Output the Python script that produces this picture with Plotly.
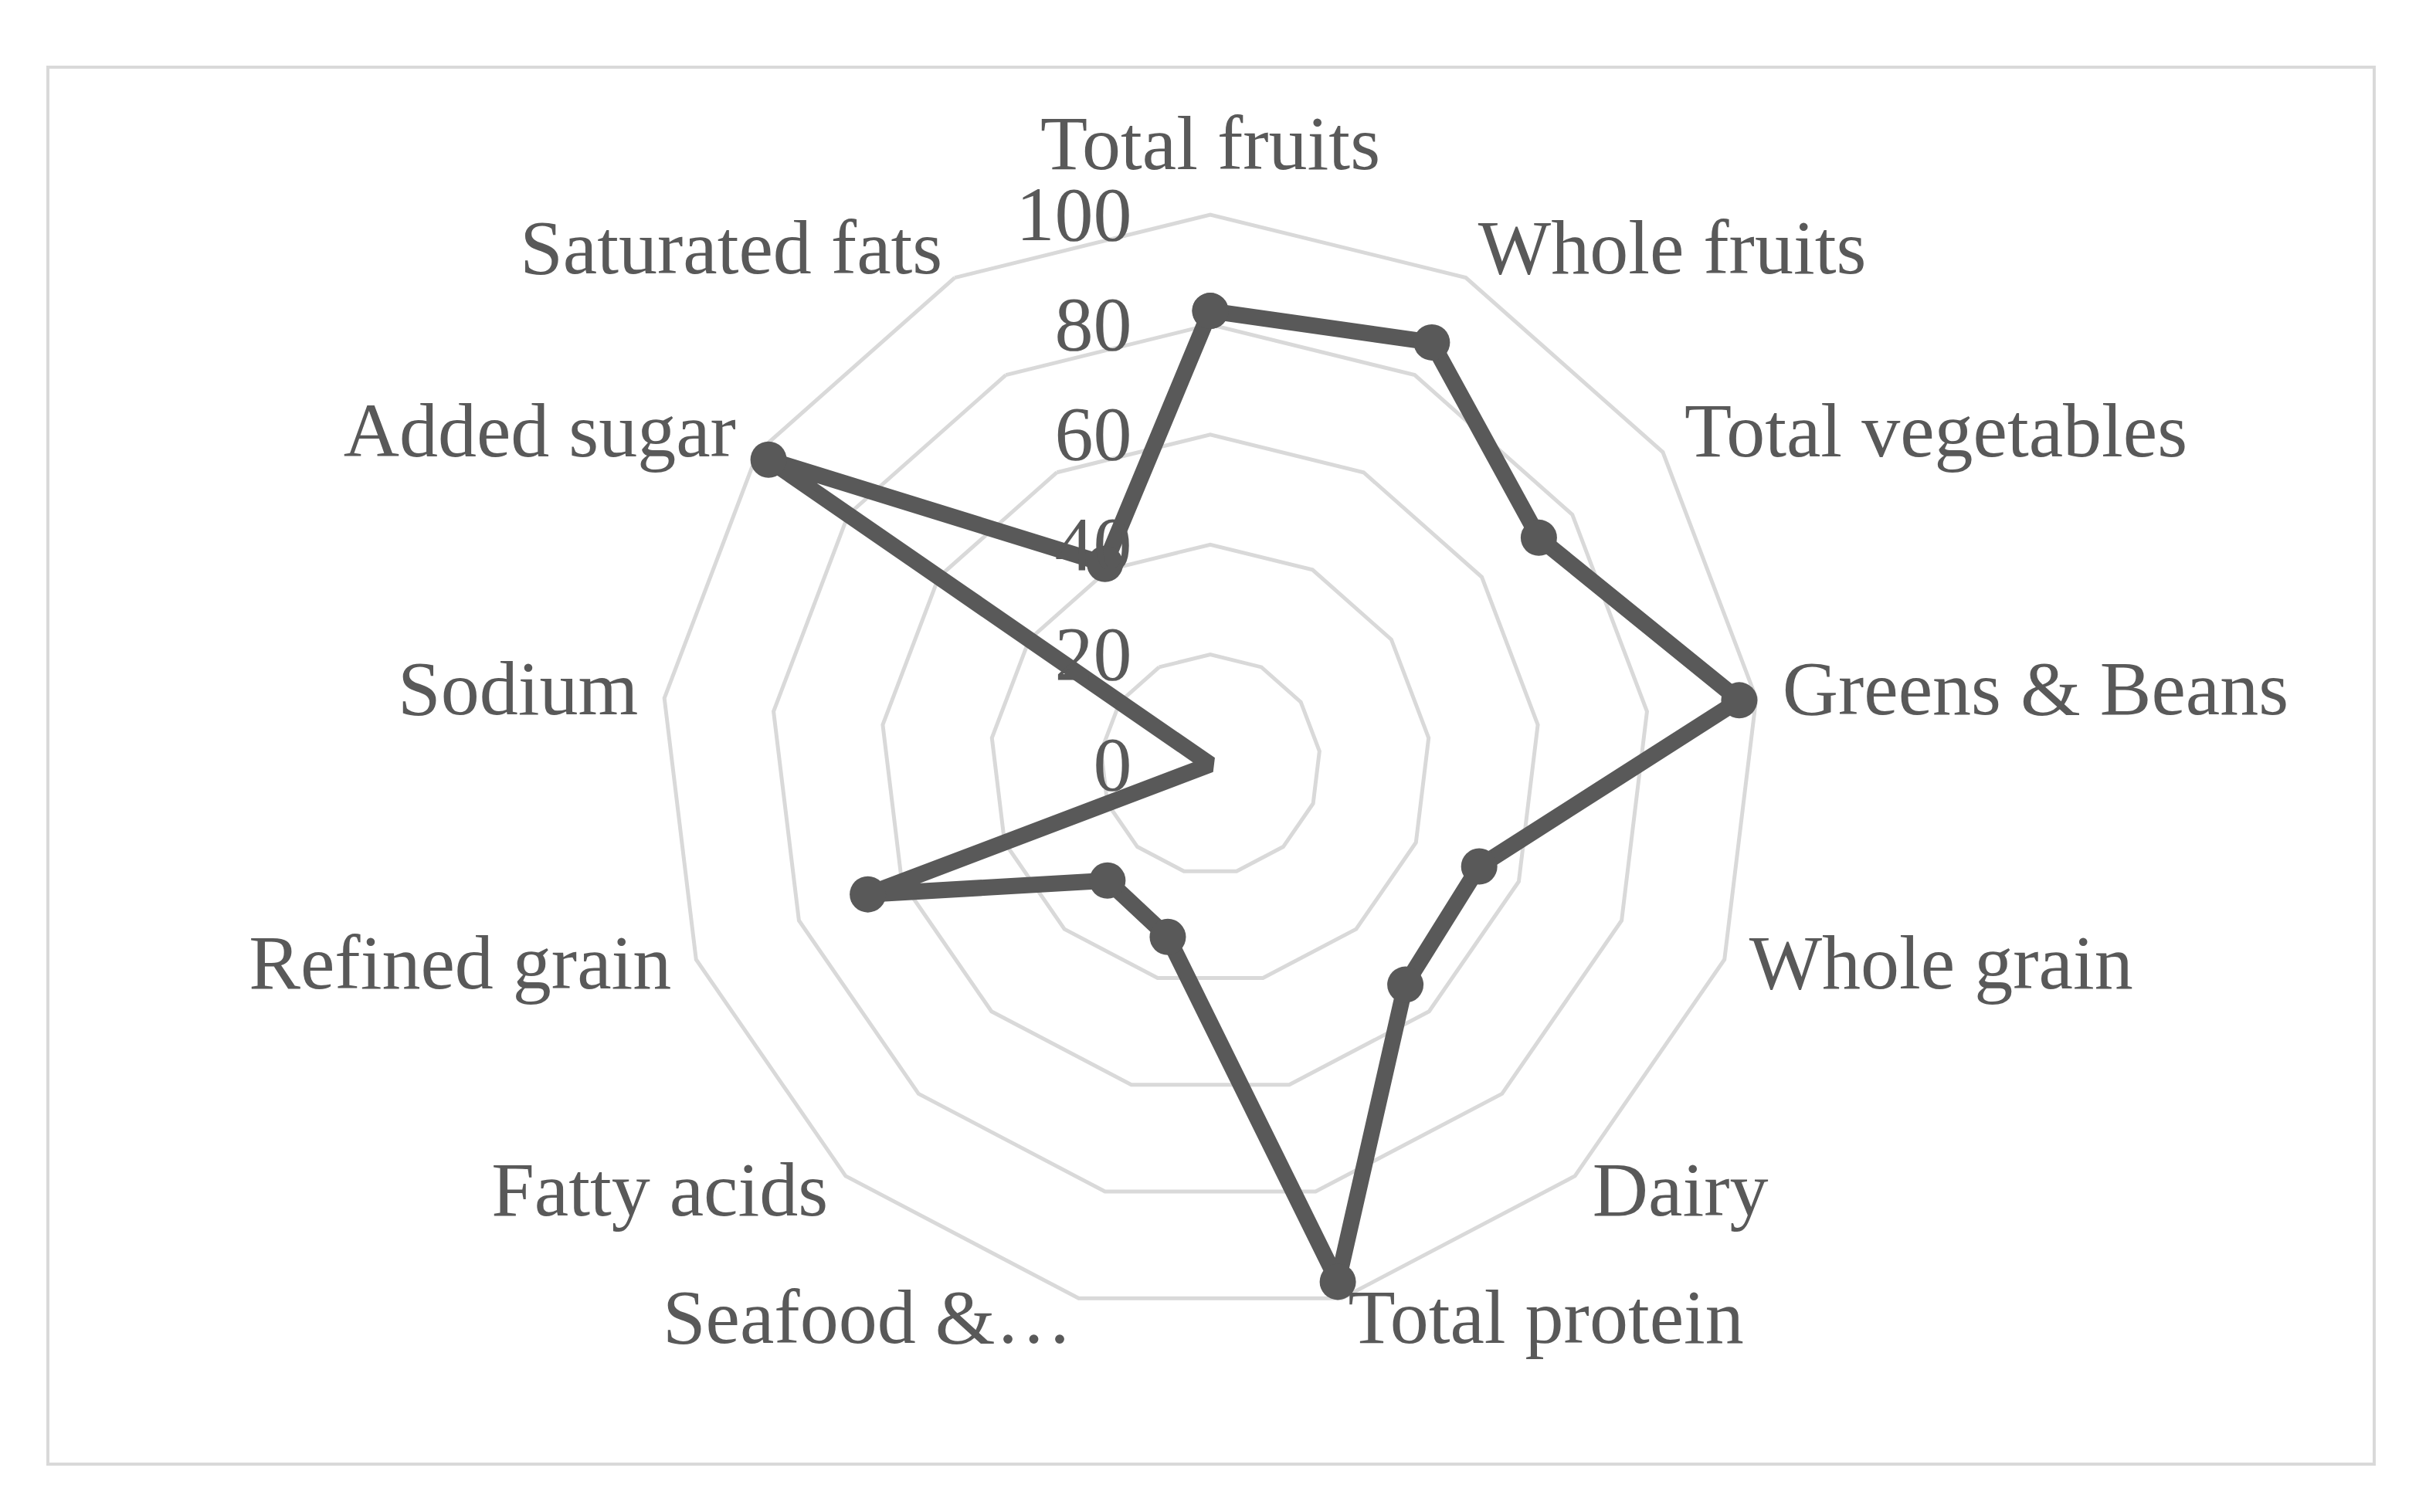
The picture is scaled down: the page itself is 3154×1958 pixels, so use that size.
import plotly.graph_objects as go

categories = ["Total fruits", "Whole fruits", "Total vegetables", "Greens & Beans",
              "Whole grain", "Dairy", "Total protein", "Seafood &…", "Fatty acids",
              "Refined grain", "Sodium", "Added sugar", "Saturated fats"]
values = [82.5, 86.7, 72.6, 96.9, 52.3, 53.5, 96.9, 32.3, 28.2, 66.6, 0, 97.6, 41.2]
radial_ticks = [0, 20, 40, 60, 80, 100]

# page body has an 8px default margin: figure is sized to fit inside the window
OFF = 8
W, H = 3154 - 2 * OFF, 1958 - 2 * OFF
cx, cy, R100 = 1567 - OFF, 990 - OFF, 712   # centre and pixel radius of the 100 ring
r_max = 105.0                    # radial range extends a little past 100 to hold labels
R = R100 * r_max / 100

line_col = "#595959"
grid_col = "#d9d9d9"
font_family = "Liberation Serif, Times New Roman, serif"

# category label placement (style): radius slightly beyond the outer ring
label_r = 104.8
n = len(categories)
label_pos = []
for i in range(n):
    if i == 0:
        label_pos.append("top center")
    elif i <= n // 2:
        label_pos.append("middle right")
    else:
        label_pos.append("middle left")

fig = go.Figure()
fig.add_trace(go.Scatterpolar(
    r=values + values[:1],
    theta=categories + categories[:1],
    mode="lines+markers",
    line=dict(color=line_col, width=21),
    marker=dict(color=line_col, size=47),
    showlegend=False,
    hoverinfo="skip",
))
fig.add_trace(go.Scatterpolar(
    r=[label_r] * n,
    theta=categories,
    mode="text",
    text=categories,
    textposition=label_pos,
    textfont=dict(size=100, color=line_col, family=font_family),
    cliponaxis=False,
    showlegend=False,
    hoverinfo="skip",
))

fig.update_layout(
    width=W, height=H,
    margin=dict(l=0, r=0, t=0, b=0),
    paper_bgcolor="white",
    font=dict(family=font_family, color=line_col, size=100),
    polar=dict(
        domain=dict(x=[(cx - R) / W, (cx + R) / W], y=[(H - cy - R) / H, (H - cy + R) / H]),
        bgcolor="rgba(0,0,0,0)",
        gridshape="linear",
        angularaxis=dict(
            direction="clockwise", rotation=90,
            showgrid=False, showline=False,
            ticks="", showticklabels=False,
        ),
        radialaxis=dict(
            range=[0, r_max], angle=90, side="counterclockwise", tickangle=90,
            tickvals=radial_ticks, ticktext=[str(v) for v in radial_ticks],
            showgrid=True, gridcolor=grid_col, gridwidth=4.5,
            showline=False, ticks="outside", ticklen=66, tickcolor="rgba(0,0,0,0)",
            tickfont=dict(size=100, color=line_col, family=font_family),
        ),
    ),
    shapes=[dict(type="rect", xref="paper", yref="paper",
                 x0=(62 - OFF) / W, x1=(3074 - OFF) / W,
                 y0=1 - (1896 - OFF) / H, y1=1 - (87 - OFF) / H,
                 line=dict(color=grid_col, width=4), fillcolor="rgba(0,0,0,0)", layer="below")],
)

fig.write_html("out.html")
